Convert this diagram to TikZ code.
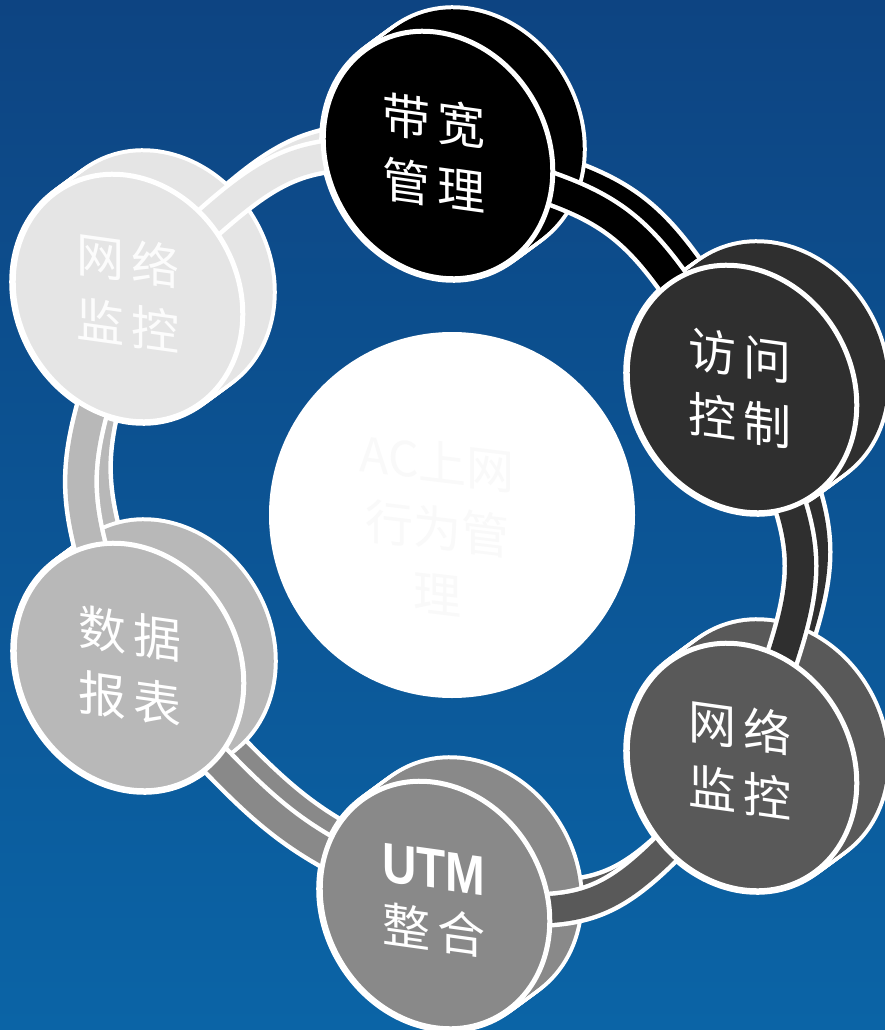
\documentclass[tikz,border=0pt]{standalone}
\usepackage{fontspec}
\usepackage{graphicx}
\newfontfamily\cjk{Noto Sans CJK SC}
\newfontfamily\utmfont{Liberation Sans}
\definecolor{bgtop}{RGB}{13,68,130}
\definecolor{bgbot}{RGB}{11,100,166}
\definecolor{cA}{RGB}{0,0,0}
\definecolor{cB}{RGB}{47,47,47}
\definecolor{cC}{RGB}{89,89,89}
\definecolor{cD}{RGB}{137,137,137}
\definecolor{cE}{RGB}{184,184,184}
\definecolor{cF}{RGB}{229,229,229}
\newcommand\discbody[2]{%
  \foreach \i in {0,...,10}{%
    \begin{scope}[shift={(#1)}, xshift={\i*3pt}, yshift={\i*2.2pt}, rotate=30]
      \draw[white, line width=8pt] (0,0) ellipse [x radius=110pt, y radius=128pt];
    \end{scope}}%
  \foreach \i in {0,...,10}{%
    \begin{scope}[shift={(#1)}, xshift={\i*3pt}, yshift={\i*2.2pt}, rotate=30]
      \fill[#2] (0,0) ellipse [x radius=110pt, y radius=128pt];
    \end{scope}}%
}
\newcommand\discface[2]{%
  \begin{scope}[shift={(#1)}, rotate=30]
    \filldraw[fill=#2, draw=white, line width=5pt] (0,0) ellipse [x radius=110pt, y radius=128pt];
  \end{scope}}
\newcommand\bandpath[5]{%
  \draw[white, line width=36pt] ([shift={(#1)}]#2) .. controls ([shift={(#1)}]#3) .. ([shift={(#1)}]#4);
  \draw[#5, line width=27pt] ([shift={(#1)}]#2) .. controls ([shift={(#1)}]#3) .. ([shift={(#1)}]#4);}
\tikzset{
  disctext/.style={text=white, font=\cjk\fontsize{48}{65}\selectfont, align=center, yslant=-0.14, inner sep=0pt},
}
\begin{document}
\begin{tikzpicture}[x=1pt, y=-1pt]
\useasboundingbox (0,0) rectangle (885,1030);
\clip (0,0) rectangle (885,1030);
\fill[top color=bgtop, bottom color=bgbot] (0,0) rectangle (885,1030);
% disc centres
\coordinate (d1) at (438,155);
\coordinate (d2) at (742,389);
\coordinate (d3) at (742,767);
\coordinate (d4) at (435,905);
\coordinate (d5) at (129,667);
\coordinate (d6) at (128,298);
% band controls
\coordinate (k1) at (630,208);
\coordinate (k2) at (820,562);
\coordinate (k3) at (606,918);
\coordinate (k4) at (282,834);
\coordinate (k5) at (65,482);
\coordinate (k6) at (283,150);
% hub
\node[circle, fill=white, minimum size=366pt, inner sep=0pt] (hub) at (452,515) {};
% band back strips
\bandpath{14,-14}{d1}{k1}{d2}{cA}
\bandpath{14,-14}{d2}{k2}{d3}{cB}
\bandpath{14,-14}{d3}{k3}{d4}{cC}
\bandpath{14,-14}{d4}{k4}{d5}{cD}
\bandpath{14,-14}{d5}{k5}{d6}{cE}
\bandpath{14,-14}{d6}{k6}{d1}{cF}
% disc bodies
\discbody{d1}{cA}
\discbody{d2}{cB}
\discbody{d3}{cC}
\discbody{d4}{cD}
\discbody{d5}{cE}
\discbody{d6}{cF}
% band front strips
\bandpath{0,0}{d1}{k1}{d2}{cA}
\bandpath{0,0}{d2}{k2}{d3}{cB}
\bandpath{0,0}{d3}{k3}{d4}{cC}
\bandpath{0,0}{d4}{k4}{d5}{cD}
\bandpath{0,0}{d5}{k5}{d6}{cE}
\bandpath{0,0}{d6}{k6}{d1}{cF}
% disc faces
\discface{d1}{cA}
\discface{d2}{cB}
\discface{d3}{cC}
\discface{d4}{cD}
\discface{d5}{cE}
\discface{d6}{cF}
% texts
\node[disctext] (t1) at ([shift={(-4,-2)}]d1) {带\kern8pt 宽\\管\kern8pt 理};
\node[disctext] (t2) at ([shift={(-2,-1)}]d2) {访\kern8pt 问\\控\kern8pt 制};
\node[disctext] (t3) at ([shift={(-2,-7)}]d3) {网\kern8pt 络\\监\kern8pt 控};
\node[disctext, font=\fontsize{48}{60}\selectfont] (t4) at ([shift={(-1,-4)}]d4) {{\utmfont\bfseries\fontsize{56}{60}\selectfont\scalebox{0.85}[1]{UTM}}\\{\cjk 整\kern8pt 合}};
\node[disctext] (t5) at ([shift={(1,-1)}]d5) {数\kern8pt 据\\报\kern8pt 表};
\node[disctext, text=white!99!black] (t6) at ([shift={(0,-5)}]d6) {网\kern8pt 络\\监\kern8pt 控};
\node[text=black!2.5, font=\cjk\fontsize{48}{66}\selectfont, align=center, yslant=-0.12, inner sep=0pt] (hubtext) at (437,528) {AC上网\\行为管\\理};
\end{tikzpicture}
\end{document}
